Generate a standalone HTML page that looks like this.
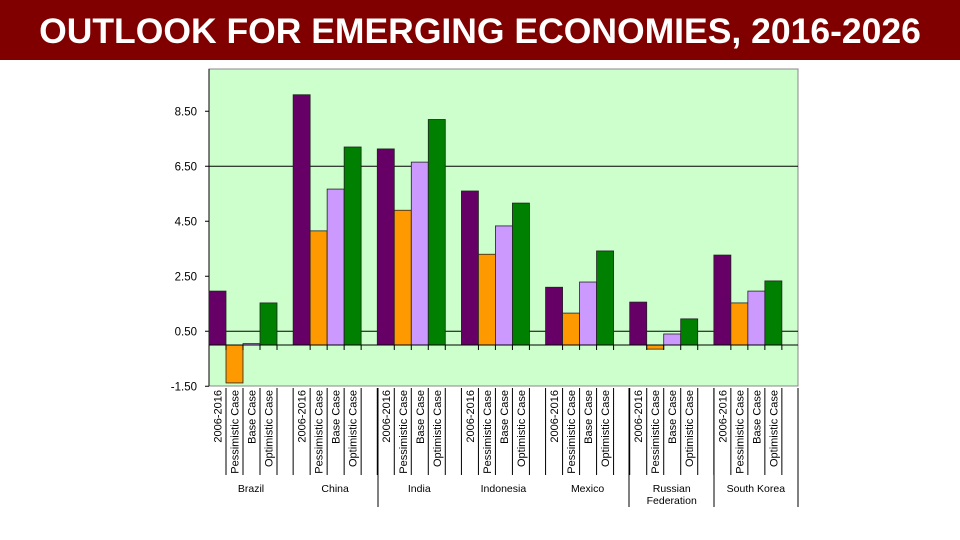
<!DOCTYPE html>
<html><head><meta charset="utf-8">
<style>
body{margin:0;width:960px;height:540px;background:#fff;overflow:hidden;font-family:"Liberation Sans",Arial,sans-serif}
#hdr{position:absolute;left:0;top:0;width:960px;height:60px;background:#800000;color:#fff;font-weight:bold;font-size:35.5px;text-align:center;line-height:63px;white-space:nowrap}
svg{position:absolute;left:0;top:0}
</style></head><body>
<div id="hdr">OUTLOOK FOR EMERGING ECONOMIES, 2016-2026</div>
<svg id="c" width="960" height="540"></svg>
<script>
const countries=["Brazil","China","India","Indonesia","Mexico","Russian|Federation","South Korea"];
const series=["2006-2016","Pessimistic Case","Base Case","Optimistic Case"];
const s2006=[1.96,9.1,7.13,5.6,2.1,1.56,3.27];
const sPess=[-1.38,4.15,4.9,3.3,1.16,-0.15,1.53];
const sBase=[0.05,5.67,6.65,4.33,2.29,0.4,1.96];
const sOpt=[1.53,7.2,8.2,5.16,3.42,0.95,2.33];
const yTicks=["8.50","6.50","4.50","2.50","0.50","-1.50"];
const colors=["#660066","#ff9900","#cc99ff","#008000"];
const allSeries=[s2006,sPess,sBase,sOpt];
const NS="http://www.w3.org/2000/svg";
const svg=document.getElementById('c');
const X0=209,X1=798,PT=69,PB=386,groupW=(X1-X0)/7,barW=17;
const y=v=>345-v*27.5;
const xb=(g,s)=>X0+g*groupW+s*barW;
function el(t,a,p){const e=document.createElementNS(NS,t);for(const k in a)e.setAttribute(k,a[k]);(p||svg).appendChild(e);return e;}
const bg=el('rect',{x:X0,y:PT,width:X1-X0,height:PB-PT,fill:'#ccffcc',stroke:'#888','stroke-width':1});


[6.5,0.5].forEach(v=>{const l=el('line',{x1:X0,x2:X1,y1:y(v),y2:y(v),stroke:'#000','stroke-width':1});

});
yTicks.forEach(t=>{const v=parseFloat(t);
const tx=el('text',{x:197,y:y(v)+4,'text-anchor':'end','font-size':11.5,fill:'#000'});tx.textContent=t;


el('line',{x1:X0-4,x2:X0,y1:y(v),y2:y(v),stroke:'#000'});});
el('line',{x1:X0,x2:X0,y1:PT,y2:PB,stroke:'#000'});
allSeries.forEach((arr,s)=>arr.forEach((v,g)=>{
const top=Math.min(y(v),y(0)),h=Math.max(Math.abs(y(v)-y(0)),1);
const r=el('rect',{x:xb(g,s),y:top,width:barW,height:h,fill:colors[s],stroke:'#222','stroke-width':0.8});


}));
el('line',{x1:X0,x2:X1,y1:y(0),y2:y(0),stroke:'#000'});
for(let g=0;g<7;g++){
for(let s=0;s<4;s++){const tx=xb(g,s)+barW/2;
el('line',{x1:xb(g,s+1),x2:xb(g,s+1),y1:y(0),y2:y(0)+5,stroke:'#000'});
const t=el('text',{x:0,y:0,transform:`translate(${tx+4},390) rotate(-90)`,'text-anchor':'end','font-size':11,fill:'#000'});
t.textContent=series[s];


if(s>0||g>0)el('line',{x1:xb(g,s),x2:xb(g,s),y1:388,y2:475,stroke:'#000'});}
el('line',{x1:xb(g,4),x2:xb(g,4),y1:388,y2:475,stroke:'#000'});
const lines=countries[g].split('|');
lines.forEach((ln,i)=>{const t=el('text',{x:X0+g*groupW+42,y:492+i*12,'text-anchor':'middle','font-size':10.5,fill:'#000'});t.textContent=ln;

});
}
[378,629,714,798].forEach(x=>el('line',{x1:x,x2:x,y1:388,y2:507,stroke:'#000'}));
</script>
</body></html>
